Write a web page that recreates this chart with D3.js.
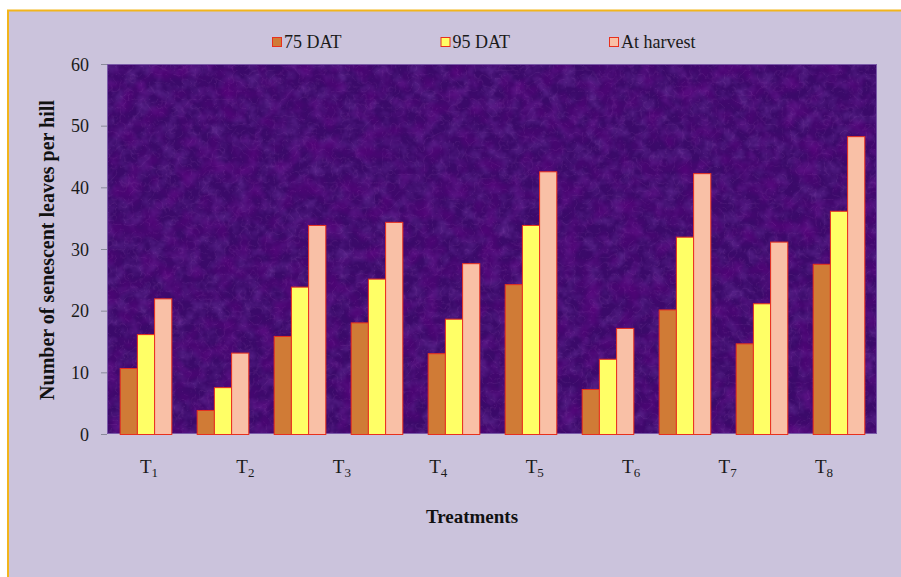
<!DOCTYPE html>
<html>
<head>
<meta charset="utf-8">
<script src="https://cdnjs.cloudflare.com/ajax/libs/d3/7.8.5/d3.min.js"></script>
<style>
  html, body { margin: 0; padding: 0; background: #ffffff; }
  svg { display: block; }
</style>
</head>
<body>
<svg id="chart" width="901" height="577"></svg>
<script>
// ---- data ----
const categories = ["1", "2", "3", "4", "5", "6", "7", "8", "9", "10"];
const seriesNames = ["75 DAT", "95 DAT", "At harvest"];
const dat75 = [10.7, 3.9, 15.9, 18.1, 13.1, 24.3, 7.3, 20.2, 14.7, 27.6];
const dat95 = [16.2, 7.6, 23.9, 25.2, 18.7, 33.9, 12.2, 32.0, 21.2, 36.2];
const atHarvest = [22.0, 13.2, 33.9, 34.4, 27.7, 42.6, 17.2, 42.3, 31.2, 48.3];
const tickLabels = ["1", "2", "3", "4", "5", "6", "7", "8"]; // subscripts of T
const yTicks = [0, 10, 20, 30, 40, 50, 60];

// ---- styles ----
const colors = ["#d07b36", "#ffff66", "#f9c0a6"];
const serif = "'Liberation Serif', 'Times New Roman', serif";

const svg = d3.select("#chart");
const W = 901, H = 577;
const plot = { left: 107, right: 877, top: 64, bottom: 434 };

// outer panel
svg.append("rect").attr("x", 8).attr("y", 11).attr("width", W).attr("height", H)
  .attr("fill", "#cbc3dc");
svg.append("line").attr("x1", 8).attr("x2", 8).attr("y1", 10).attr("y2", H)
  .attr("stroke", "#f2b51c").attr("stroke-width", 2);
svg.append("line").attr("x1", 7).attr("x2", W).attr("y1", 10.5).attr("y2", 10.5)
  .attr("stroke", "#f2b51c").attr("stroke-width", 2);

// texture filters for plot background
const defs = svg.append("defs");
const f = defs.append("filter").attr("id", "tex")
  .attr("x", 0).attr("y", 0).attr("width", 1).attr("height", 1);
f.append("feTurbulence").attr("type", "fractalNoise").attr("baseFrequency", "0.08")
  .attr("numOctaves", 3).attr("seed", 7).attr("result", "n");
f.append("feColorMatrix").attr("in", "n").attr("type", "matrix")
  .attr("values", "0 0 0 0 0.32  0 0 0 0 0.1  0 0 0 0 0.62  1.6 0 0 0 -0.62");
const f2 = defs.append("filter").attr("id", "tex2")
  .attr("x", 0).attr("y", 0).attr("width", 1).attr("height", 1);
f2.append("feTurbulence").attr("type", "fractalNoise").attr("baseFrequency", "0.05")
  .attr("numOctaves", 2).attr("seed", 11).attr("result", "n");
f2.append("feColorMatrix").attr("in", "n").attr("type", "matrix")
  .attr("values", "0 0 0 0 0.12  0 0 0 0 0.0  0 0 0 0 0.22  2.0 0 0 0 -0.8");
const f3 = defs.append("filter").attr("id", "tex3")
  .attr("x", 0).attr("y", 0).attr("width", 1).attr("height", 1);
f3.append("feTurbulence").attr("type", "turbulence").attr("baseFrequency", "0.12")
  .attr("numOctaves", 2).attr("seed", 5).attr("result", "n");
f3.append("feColorMatrix").attr("in", "n").attr("type", "matrix")
  .attr("values", "0 0 0 0 0.5  0 0 0 0 0.2  0 0 0 0 0.6  -3 0 0 0 0.5");

const pw = plot.right - plot.left, ph = plot.bottom - plot.top;
const bg = svg.append("g");
bg.append("rect").attr("x", plot.left).attr("y", plot.top).attr("width", pw).attr("height", ph)
  .attr("fill", "#3b0a6a");
bg.append("rect").attr("x", plot.left).attr("y", plot.top).attr("width", pw).attr("height", ph)
  .attr("filter", "url(#tex)").attr("opacity", 0.38);
bg.append("rect").attr("x", plot.left).attr("y", plot.top).attr("width", pw).attr("height", ph)
  .attr("filter", "url(#tex2)").attr("opacity", 0.6);
bg.append("rect").attr("x", plot.left).attr("y", plot.top).attr("width", pw).attr("height", ph)
  .attr("filter", "url(#tex3)").attr("opacity", 0.22);
bg.append("rect").attr("x", plot.left + 0.5).attr("y", plot.top + 0.5).attr("width", pw - 1).attr("height", ph - 1)
  .attr("fill", "none").attr("stroke", "#7a5aa8").attr("stroke-width", 1);

// ---- scales ----
const x0 = d3.scaleBand().domain(categories).range([plot.left, plot.right])
  .paddingInner(0.33).paddingOuter(0.165);
const x1 = d3.scaleBand().domain(seriesNames).range([0, x0.bandwidth()]);
const y = d3.scaleLinear().domain([0, 60]).range([plot.bottom, plot.top]);

// ---- bars ----
const table = categories.map((c, i) => ({
  cat: c,
  vals: [dat75[i], dat95[i], atHarvest[i]]
}));
const g = svg.append("g").selectAll("g").data(table).join("g")
  .attr("transform", d => `translate(${x0(d.cat)},0)`);
g.selectAll("rect").data(d => d.vals.map((v, j) => ({ name: seriesNames[j], v, j })))
  .join("rect")
  .attr("x", d => x1(d.name) + 0.5)
  .attr("y", d => y(d.v) + 0.5)
  .attr("width", x1.bandwidth())
  .attr("height", d => y(0) - y(d.v))
  .attr("fill", d => colors[d.j])
  .attr("stroke", "#e8301e")
  .attr("stroke-width", 1);

// ---- y axis ----
const yAxis = d3.axisLeft(y).tickValues(yTicks).tickSize(6).tickPadding(12).tickFormat(d3.format("d"));
const ya = svg.append("g").attr("transform", `translate(${plot.left},0)`).call(yAxis)
  .attr("font-family", serif).attr("font-size", 18);
ya.select(".domain").remove();
ya.selectAll(".tick line").attr("stroke", "#8a8a9a");
ya.selectAll(".tick text").attr("font-family", serif).attr("font-size", 18)
  .attr("fill", "#1a1a1a").attr("dy", "0.34em");

// ---- x tick labels (T with subscript) ----
const xl = d3.scalePoint().domain(tickLabels).range([149, 824]);
const tl = svg.append("g").selectAll("text").data(tickLabels).join("text")
  .attr("x", d => xl(d))
  .attr("y", 473)
  .attr("text-anchor", "middle")
  .attr("font-family", serif).attr("font-size", 19).attr("fill", "#1a1a1a");
tl.append("tspan").text("T");
tl.append("tspan").text(d => d).attr("font-size", 13).attr("dy", 4);

// ---- axis titles ----
svg.append("text").attr("x", 472).attr("y", 523).attr("text-anchor", "middle")
  .attr("font-family", serif).attr("font-size", 19).attr("font-weight", "bold")
  .attr("fill", "#111").text("Treatments");
svg.append("text").attr("transform", "translate(54,250) rotate(-90)")
  .attr("text-anchor", "middle")
  .attr("font-family", serif).attr("font-size", 20).attr("font-weight", "bold")
  .attr("fill", "#111").text("Number of senescent leaves per hill");

// ---- legend ----
const legX = d3.scalePoint().domain(seriesNames).range([272, 609]);
const lg = svg.append("g").selectAll("g").data(seriesNames).join("g")
  .attr("transform", d => `translate(${legX(d)},37)`);
lg.append("rect").attr("x", 0.5).attr("y", 0.5).attr("width", 9).attr("height", 9)
  .attr("fill", (d, i) => colors[i]).attr("stroke", "#e8301e").attr("stroke-width", 1);
lg.append("text").attr("x", 12).attr("y", 10.5)
  .attr("font-family", serif).attr("font-size", 18).attr("fill", "#1a1a1a")
  .text(d => d);
</script>
</body>
</html>
